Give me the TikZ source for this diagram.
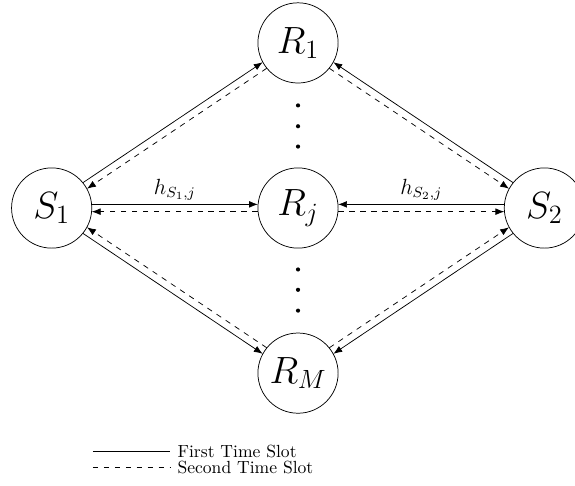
\documentclass[tikz,border=0pt]{standalone}
\usepackage{tikz}
\usetikzlibrary{positioning, calc, arrows.meta}

\begin{document}
\begin{tikzpicture}[
  on grid,
  node distance=3.17cm and 4.73cm,
  relay/.style={draw, circle, minimum size=1.54cm, inner sep=0pt, font=\huge},
  firstSlot/.style={-{Latex[length=1.7mm, width=1.3mm]}, shorten <=0.77cm, shorten >=0.77cm},
  secondSlot/.style={firstSlot, dashed},
  chanLabel/.style={font=\large, inner sep=1pt},
  legendTxt/.style={right, font=\fontsize{9.6}{10}\selectfont, inner xsep=4pt, inner ysep=0pt}
]
\useasboundingbox (-5.722,-5.318) rectangle (5.318,3.994);

\node[relay] (Rj) {$R_j$};
\node[relay, above=of Rj] (R1) {$R_1$};
\node[relay, below=of Rj] (RM) {$R_M$};
\node[relay, left=of Rj] (S1) {$S_1$};
\node[relay, right=of Rj] (S2) {$S_2$};

% dots between the relays
\foreach \y in {1.18, 1.57, 1.97} {
  \fill (0,\y) circle (0.04);
  \fill (0,-\y) circle (0.04);
}

% solid: first slot (S -> R), dashed: second slot (R -> S)
\foreach \src/\dst/\a/\b in {S1/R1/90/-90, S1/Rj/90/-90, S1/RM/-90/90,
                             S2/R1/-90/90, S2/Rj/-90/90, S2/RM/90/-90} {
  \draw[firstSlot] ($(\src)!0.07cm!\a:(\dst)$) -- ($(\dst)!0.07cm!\b:(\src)$);
  \draw[secondSlot] ($(\dst)!0.07cm!\a:(\src)$) -- ($(\src)!0.07cm!\b:(\dst)$);
}

\path (S1) -- node[chanLabel, above=0.1cm] {$h_{S_1,j}$} (Rj);
\path (S2) -- node[chanLabel, above=0.1cm] {$h_{S_2,j}$} (Rj);

% legend
\coordinate (firstL) at (-3.94,-4.68);
\coordinate (secondL) at (-3.94,-4.98);
\draw (firstL) -- ++(1.48,0) node[legendTxt] (firstTxt) {First Time Slot};
\draw[dashed] (secondL) -- ++(1.48,0) node[legendTxt] (secondTxt) {Second Time Slot};
\end{tikzpicture}
\end{document}
